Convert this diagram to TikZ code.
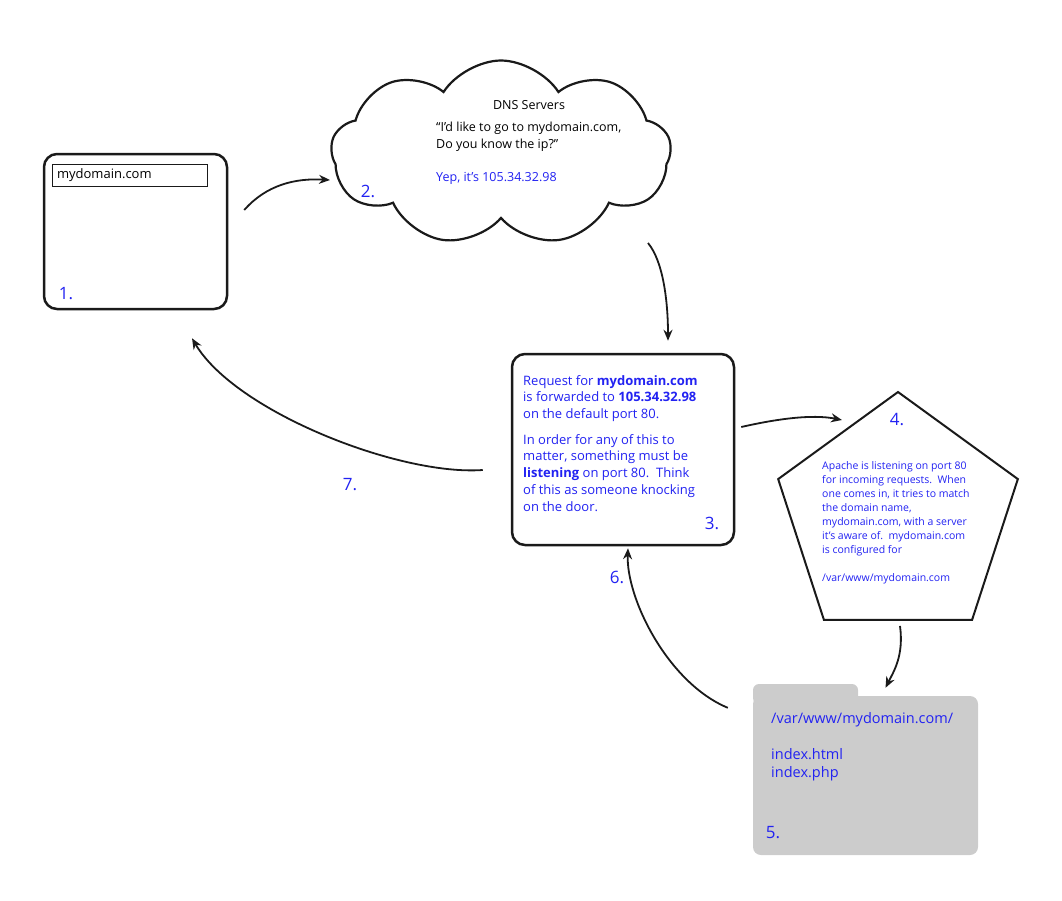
\documentclass[tikz,border=0pt]{standalone}
\usepackage{fontspec}
\setmainfont{Open Sans}
\usepackage{xcolor}
\usepackage{tikz}
\usetikzlibrary{arrows.meta,positioning,shapes.geometric,shapes.symbols}
\definecolor{ink}{HTML}{1A1A1A}
\definecolor{steptext}{HTML}{2222F2}
\definecolor{folderbg}{HTML}{CCCCCC}

\begin{document}
\begin{tikzpicture}[x=1pt,y=-1pt,
  box/.style={draw=ink,line width=2.5pt,rounded corners=13pt,fill=white,
              minimum width=#1,inner sep=0pt},
  stepno/.style={text=steptext,font=\fontsize{17}{20}\selectfont,inner sep=0pt},
  blurb/.style={text=steptext,align=left,inner sep=0pt},
  arr/.style={-{Stealth[length=11pt,width=9pt]},draw=ink,line width=1.8pt}
]
\useasboundingbox (0,0) rectangle (1062,900);

% 1. browser
\node[box=183pt,minimum height=155pt] (browser) at (135.5,231.5) {};
\node[draw=ink,line width=1pt,minimum width=155pt,minimum height=22pt,
      inner xsep=5pt,text width=145pt,align=left,
      font=\fontsize{13}{15}\selectfont] (urlbar) at (129.5,175) {mydomain.com};
\node[stepno] (n1) at (66,294) {1.};

% 2. DNS cloud
\node[cloud,cloud puffs=9,cloud puff arc=115,cloud ignores aspect,
      draw=ink,line width=2.2pt,fill=white,minimum width=340pt,minimum height=185pt,
      inner sep=0pt] (dns) at (501,153) {};
\node[font=\fontsize{12.5}{15}\selectfont,inner sep=0pt] (dnstitle) at (529,105) {DNS Servers};
\node[align=left,inner sep=0pt,anchor=north west,
      font=\fontsize{12.5}{17}\selectfont] (question) at (436,122)
  {“I’d like to go to mydomain.com,\\Do you know the ip?”};
\node[blurb,anchor=north west,font=\fontsize{12.5}{17}\selectfont] (answer) at (436,172)
  {Yep, it’s 105.34.32.98};
\node[stepno] (n2) at (368,191) {2.};

% 3. request
\node[box=222pt,minimum height=191pt] (request) at (623,449.5) {};
\node[blurb,anchor=north west,font=\fontsize{13}{16.7}\selectfont] (reqtext) at (523,375)
  {Request for \textbf{mydomain.com}\\
   is forwarded to \textbf{105.34.32.98}\\
   on the default port 80.\\[9pt]
   In order for any of this to\\
   matter, something must be\\
   \textbf{listening} on port 80.\ \ Think\\
   of this as someone knocking\\
   on the door.};
\node[stepno] (n3) at (712,523) {3.};

% 4. apache
\node[regular polygon,regular polygon sides=5,minimum size=252pt,inner sep=0pt,
      draw=ink,line width=2pt] (apache) at (898,518) {};
\node[stepno] (n4) at (897,420) {4.};
\node[blurb,anchor=north west,font=\fontsize{10.5}{14}\selectfont] (apachetext) at (822,461)
  {Apache is listening on port 80\\
   for incoming requests.\ \ When\\
   one comes in, it tries to match\\
   the domain name,\\
   mydomain.com, with a server\\
   it’s aware of.\ \ mydomain.com\\
   is configured for\\[14pt]
   /var/www/mydomain.com};

% 5. document root
\fill[folderbg,rounded corners=6pt] (753,704) -- (753,684) -- (858,684) -- (858,704) -- cycle;
\node[fill=folderbg,rounded corners=8pt,minimum width=225pt,minimum height=159pt,
      inner sep=0pt] (docroot) at (865.5,775.5) {};
\node[blurb,anchor=north west,font=\fontsize{14.5}{18}\selectfont] (doctext) at (771,712)
  {/var/www/mydomain.com/\\[18pt]
   index.html\\
   index.php};
\node[stepno] (n5) at (773,833) {5.};

\node[stepno] (n6) at (617,577) {6.};
\node[stepno] (n7) at (350,485) {7.};

% connectors
\draw[arr] ([shift={(16,-21.5)}]browser.east)
  .. controls +(22,-25) and +(-35,-2) .. ([shift={(-171,27)}]dns.center);
\draw[arr] ([shift={(147,90)}]dns.center)
  .. controls +(15,18) and +(0,-40) .. ([shift={(45,-12)}]request.north);
\draw[arr] ([shift={(6,-22.5)}]request.east)
  .. controls +(35,-8) and +(-30,-6) .. ([shift={(-56,-98)}]apache.center);
\draw[arr] ([shift={(2,5)}]apache.south)
  .. controls +(4,30) and +(8,-16) .. ([shift={(20,-8)}]docroot.north);
\draw[arr] ([shift={(-25,12)}]docroot.north west)
  .. controls +(-60,-25) and +(-2,50) .. ([shift={(5,2)}]request.south);
\draw[arr] ([shift={(-28,20.5)}]request.west)
  .. controls +(-84,6) and +(43,73) .. ([shift={(56.5,28)}]browser.south);
\end{tikzpicture}
\end{document}
